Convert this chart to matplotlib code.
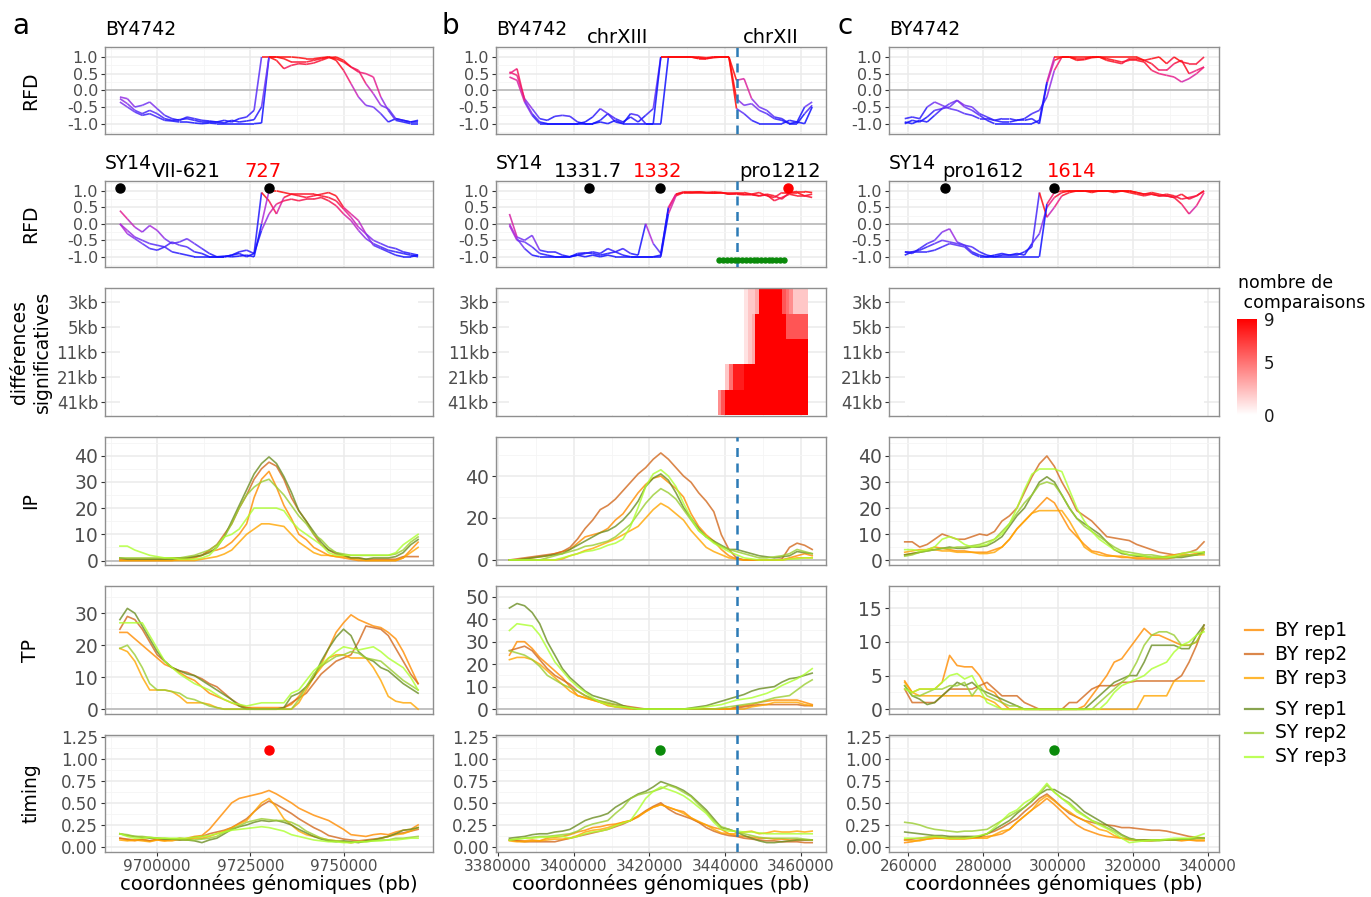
import numpy as np
import matplotlib
matplotlib.use('Agg')
import matplotlib.pyplot as plt
from matplotlib.collections import LineCollection
from matplotlib.colors import LinearSegmentedColormap, Normalize
from matplotlib.ticker import MultipleLocator, NullLocator, FuncFormatter
from matplotlib.transforms import blended_transform_factory
from matplotlib.lines import Line2D
import matplotlib.colorbar as mcolorbar

plt.rcParams['font.family'] = ['DejaVu Sans']
plt.rcParams['axes.unicode_minus'] = False

# ---------------- data ----------------
# sampling grid (2 kb bins) for each locus
x_a = np.arange(9690000, 9770001, 2000)
x_b = np.arange(3383000, 3463001, 2000)
x_c = np.arange(259000, 339001, 2000)

series_labels = ['BY rep1', 'BY rep2', 'BY rep3', 'SY rep1', 'SY rep2', 'SY rep3']
series_colors = ['#FF8C00', '#D2691E', '#FFA500', '#6B8E23', '#9ACD32', '#ADFF2F']

# RFD, BY4742 (3 replicates) and SY14 (3 replicates)
rfd_by_a = [
    [-0.2, -0.25, -0.5, -0.45, -0.35, -0.55, -0.75, -0.85, -0.9, -0.8,
     -0.85, -0.9, -0.92, -0.95, -0.9, -0.95, -0.85, -0.8, -0.6, 1.0,
     1.0, 1.0, 0.95, 0.85, 0.85, 0.85, 0.9, 0.95, 1.0, 0.9,
     0.6, 0.2, -0.2, -0.45, -0.5, -0.7, -0.95, -0.85, -0.9, -0.95, -0.95],
    [-0.35, -0.5, -0.65, -0.75, -0.7, -0.8, -0.9, -0.92, -0.95, -0.95,
     -0.98, -1.0, -0.98, -1.0, -1.0, -1.0, -1.0, -1.0, -1.0, -0.98,
     1.0, 1.0, 1.0, 1.0, 0.98, 0.95, 0.95, 0.98, 1.0, 0.95,
     0.85, 0.7, 0.55, 0.5, 0.4, -0.2, -0.6, -0.9, -0.95, -1.0, -1.0],
    [-0.25, -0.4, -0.6, -0.7, -0.6, -0.7, -0.85, -0.9, -0.88, -0.85,
     -0.9, -0.95, -0.95, -0.95, -0.98, -0.9, -0.95, -0.92, -0.88, -0.5,
     1.0, 0.9, 0.65, 0.75, 0.8, 0.78, 0.82, 0.9, 0.98, 1.0,
     0.9, 0.7, 0.6, 0.2, -0.1, -0.45, -0.55, -0.85, -0.9, -0.95, -0.9],
]
rfd_sy_a = [
    [0.4, 0.15, -0.1, -0.25, -0.05, -0.2, -0.45, -0.6, -0.55, -0.45,
     -0.6, -0.75, -0.9, -1.0, -1.0, -0.95, -0.85, -0.8, -0.9, 0.95,
     0.7, 0.3, 0.8, 0.9, 0.85, 0.8, 0.85, 0.9, 0.95, 0.85,
     0.5, 0.3, 0.1, -0.3, -0.5, -0.6, -0.7, -0.75, -0.85, -0.9, -0.95],
    [0.0, -0.2, -0.4, -0.5, -0.6, -0.65, -0.7, -0.55, -0.65, -0.7,
     -0.85, -0.9, -1.0, -1.0, -1.0, -0.95, -0.9, -1.0, -0.9, -0.2,
     0.3, 0.6, 0.7, 0.75, 0.7, 0.75, 0.75, 0.8, 0.7, 0.55,
     0.3, 0.1, -0.2, -0.45, -0.6, -0.7, -0.8, -0.85, -0.9, -0.95, -1.0],
    [0.0, -0.3, -0.45, -0.6, -0.75, -0.8, -0.7, -0.85, -0.9, -0.95,
     -1.0, -1.0, -1.0, -1.0, -0.98, -1.0, -0.98, -0.95, -1.0, 0.0,
     1.0, 1.0, 0.95, 0.9, 0.9, 0.9, 0.9, 0.85, 0.8, 0.7,
     0.45, 0.2, -0.1, -0.3, -0.65, -0.75, -0.85, -0.95, -1.0, -1.0, -0.95],
]
rfd_by_b = [
    [0.55, 0.45, -0.25, -0.55, -0.85, -0.9, -0.78, -0.75, -0.78, -0.95,
     -1.0, -1.0, -0.9, -0.7, -0.85, -0.95, -0.8, -0.95, -0.75, -0.55,
     1.0, 1.0, 1.0, 1.0, 1.0, 0.97, 0.95, 0.98, 1.0, 1.0,
     -0.25, -0.45, -0.4, -0.6, -0.7, -0.85, -0.9, -1.0, -0.95, -0.5, -0.35],
    [0.5, 0.65, -0.3, -0.7, -0.95, -1.0, -1.0, -1.0, -1.0, -1.0,
     -0.95, -0.8, -0.55, -0.7, -0.95, -1.0, -0.7, -0.75, -1.0, -1.0,
     -1.0, 1.0, 1.0, 1.0, 1.0, 1.0, 0.98, 1.0, 1.0, 1.0,
     0.3, 0.35, -0.25, -0.5, -0.6, -0.8, -0.85, -1.0, -1.0, -0.7, -0.45],
    [0.4, 0.3, -0.35, -0.75, -1.0, -1.0, -1.0, -1.0, -1.0, -1.0,
     -1.0, -1.0, -0.95, -1.0, -0.9, -1.0, -1.0, -1.0, -1.0, -1.0,
     1.0, 1.0, 1.0, 1.0, 1.0, 0.95, 0.95, 1.0, 1.0, 1.0,
     -0.55, -0.7, -0.9, -1.0, -1.0, -1.0, -1.0, -0.9, -0.95, -1.0, -0.5],
]
rfd_sy_b = [
    [0.3, -0.4, -0.5, -0.35, -0.8, -0.85, -0.85, -0.95, -1.0, -0.95,
     -0.9, -0.85, -0.9, -0.75, -0.85, -0.75, -0.9, -0.95, 0.0, -0.6,
     -0.9, 0.45, 0.9, 0.97, 0.95, 0.97, 0.95, 0.93, 0.95, 0.9,
     0.92, 0.9, 0.88, 0.85, 0.9, 0.85, 0.75, 0.95, 0.95, 0.85, 0.9],
    [-0.05, -0.5, -0.55, -0.7, -0.9, -0.95, -1.0, -1.0, -1.0, -0.9,
     -0.88, -0.9, -0.95, -0.9, -0.85, -0.95, -1.0, -1.0, -1.0, -1.0,
     -1.0, 0.3, 0.85, 0.95, 0.95, 0.95, 0.95, 0.95, 0.95, 0.95,
     0.95, 0.95, 0.9, 0.95, 0.85, 0.8, 0.95, 0.95, 0.98, 0.98, 0.95],
    [0.0, -0.45, -0.75, -0.95, -1.0, -1.0, -1.0, -1.0, -1.0, -0.95,
     -1.0, -0.95, -1.0, -0.95, -1.0, -1.0, -1.0, -1.0, -1.0, -1.0,
     -0.95, 0.5, 0.9, 0.95, 0.97, 0.97, 0.95, 0.97, 0.95, 0.9,
     0.9, 0.88, 0.9, 0.85, 0.88, 0.7, 0.8, 0.9, 0.85, 0.85, 0.8],
]
rfd_by_c = [
    [-0.85, -0.8, -0.85, -0.5, -0.35, -0.45, -0.55, -0.6, -0.7, -0.75,
     -0.85, -0.85, -0.9, -0.85, -0.85, -0.9, -0.85, -0.7, -0.6, -0.2,
     0.6, 1.0, 1.0, 0.95, 0.95, 1.0, 1.0, 0.95, 0.9, 0.85,
     0.9, 0.9, 0.85, 0.6, 0.5, 0.45, 0.4, 0.25, 0.35, 0.5, 0.7],
    [-1.0, -0.9, -0.95, -0.8, -0.6, -0.55, -0.4, -0.3, -0.45, -0.5,
     -0.7, -0.8, -0.9, -0.95, -0.95, -0.9, -0.9, -0.85, -1.0, 0.2,
     0.9, 1.0, 1.0, 0.9, 0.92, 0.98, 1.0, 0.9, 0.85, 0.8,
     0.95, 0.95, 0.9, 0.8, 0.6, 0.6, 0.8, 0.9, 0.5, 0.6, 0.7],
    [-0.95, -1.0, -0.9, -0.95, -0.75, -0.55, -0.5, -0.3, -0.5, -0.6,
     -0.75, -0.9, -1.0, -1.0, -1.0, -1.0, -1.0, -1.0, -0.9, 0.25,
     1.0, 1.0, 1.0, 1.0, 1.0, 1.0, 1.0, 1.0, 1.0, 1.0,
     1.0, 1.0, 0.9, 0.95, 1.0, 0.8, 1.0, 0.85, 0.8, 0.8, 1.0],
]
rfd_sy_c = [
    [-0.85, -0.9, -0.75, -0.6, -0.5, -0.25, -0.15, -0.55, -0.65, -0.7,
     -0.85, -0.95, -1.0, -0.95, -0.95, -0.95, -0.85, -0.7, 0.95, 0.2,
     0.5, 0.85, 0.95, 1.0, 1.0, 0.95, 1.0, 1.0, 0.95, 1.0,
     0.95, 0.9, 0.85, 0.9, 0.85, 0.85, 0.8, 0.6, 0.3, 0.55, 0.95],
    [-0.95, -0.85, -0.8, -0.7, -0.6, -0.5, -0.55, -0.6, -0.65, -0.85,
     -0.95, -1.0, -0.95, -0.9, -0.95, -0.9, -0.95, -0.6, -0.3, 0.5,
     0.8, 0.95, 1.0, 1.0, 1.0, 1.0, 1.0, 1.0, 1.0, 1.0,
     1.0, 0.95, 0.9, 0.9, 0.85, 0.9, 0.85, 0.75, 0.8, 0.85, 1.0],
    [-0.85, -0.85, -0.85, -0.85, -0.8, -0.7, -0.6, -0.65, -0.7, -0.9,
     -1.0, -1.0, -1.0, -1.0, -1.0, -1.0, -1.0, -1.0, -1.0, 0.6,
     0.95, 1.0, 1.0, 1.0, 1.0, 1.0, 1.0, 1.0, 1.0, 1.0,
     1.0, 0.95, 0.9, 0.95, 0.9, 0.85, 0.8, 0.9, 0.75, 0.85, 1.0],
]

# IP signal (order: BY rep1-3, SY rep1-3)
ip_a = [
    [0, 0, 0, 0, 0, 0, 0, 0, 0.5, 0.5, 1, 2, 3.5, 4, 5, 7, 10, 14, 24, 31,
     34, 28, 21, 16, 10, 8, 5, 3.5, 2, 1.5, 1, 0.5, 0, 0, 0, 0, 0, 0, 1, 4, 7],
    [0.5, 0.5, 0.5, 0.5, 0.5, 0.5, 0.5, 1, 1, 1, 1.5, 2, 4, 6, 10, 14, 20, 25, 31, 35,
     37.5, 36, 31, 24, 19, 15, 10, 6, 4, 2.5, 2, 1, 1, 0.5, 0.5, 0.5, 0.5, 0.5, 1.5, 1.5, 1.5],
    [0, 0, 0, 0, 0, 0, 0, 0, 0, 0, 0, 0.5, 1, 1.5, 2.5, 4, 7, 10, 12, 14,
     14, 13.5, 13, 10, 7, 5, 3, 2, 2, 1.5, 1.5, 1, 0.5, 0, 0, 0, 0, 0, 1, 3, 5],
    [1, 0.5, 0.5, 0.5, 0.5, 0.5, 0.5, 0.5, 1, 1, 1.5, 2, 3, 5, 9, 15, 21, 27, 33, 37,
     39.5, 37, 32, 26, 19, 15, 11, 7, 4, 3, 2, 1, 1, 0.5, 1, 1, 1, 1.5, 3, 6, 8],
    [1, 1, 1, 1, 1, 1, 1, 1, 1, 1.5, 2, 3, 4, 6, 9, 14, 20, 25, 28, 30,
     31, 28, 25, 21, 17, 14, 10, 8, 5, 3, 2.5, 2, 2, 2, 2, 2, 2, 2.5, 4, 7, 9],
    [5.5, 5.5, 4, 3, 2, 1.5, 1, 1, 0.5, 0.5, 0.5, 1, 2, 5, 9, 10, 12, 16, 20, 20,
     20, 20, 19, 15, 12, 10, 8, 6, 3, 2, 2, 2, 2, 2, 2, 2, 2, 3, 6, 8, 10],
]
ip_b = [
    [0, 0, 0.5, 1, 1.5, 2, 3, 4, 5, 8, 11, 12, 13, 15, 19, 22, 27, 32, 36, 39,
     40, 37, 34, 30, 22, 16, 12, 9, 5, 2, 0.5, 0, 0, 0, 0, 0, 0, 1, 2, 3, 2],
    [0, 0.5, 1, 1.5, 2, 2.5, 3, 4, 6, 10, 15, 19, 24, 26, 29, 33, 37, 41, 44, 48,
     51, 48, 44, 40, 37, 32, 28, 23, 12, 5, 1, 0, 0, 0, 0, 0, 0.5, 6, 8, 7, 5],
    [0, 0, 0, 0, 0, 0, 0, 0.5, 2, 3, 4.5, 5.5, 7, 8.5, 10, 12, 14, 16, 20, 24,
     27, 25, 22, 19, 14, 10, 6, 4, 2.5, 1, 0.5, 0, 0, 0, 0, 0, 0, 0.5, 1, 1, 1],
    [0, 0, 0.5, 1, 1.5, 2, 2.5, 3, 5, 7, 9, 11, 13, 14, 16, 19, 23, 28, 35, 39,
     41, 38, 32, 25, 20, 15, 11, 9, 7, 5, 5, 4, 3, 2, 1.5, 1, 1.5, 2, 4, 3.5, 3],
    [0, 0, 0, 0, 0, 1, 2, 3, 4, 5, 6.5, 7, 8, 9, 11, 14, 17, 22, 27, 31,
     34, 32, 29, 24, 19, 14, 11, 8.5, 6.5, 5, 4, 3, 2, 1, 1, 1.5, 2, 3, 5, 4, 3],
    [0, 0, 0, 0, 0, 0, 0, 1, 2, 3, 4, 4.5, 5.5, 7, 8, 10, 16, 25, 35, 41,
     43, 40, 35, 27, 20, 14, 11, 8, 6, 4, 2.5, 1, 0.5, 0, 0, 0, 0, 0.5, 0.5, 1, 1],
]
ip_c = [
    [2, 2.5, 3, 4, 5, 4.5, 4, 3.5, 3.5, 3, 3, 3, 4, 5, 8, 12, 15, 18, 21, 24,
     22, 17, 12, 9, 6, 3.5, 3, 2, 1.5, 1, 1, 0.5, 0.5, 0.5, 0.5, 0.5, 1, 1.5, 2, 2.5, 3],
    [7, 7, 5, 6, 8, 10, 9, 8, 8, 9, 10, 9.5, 11, 15, 17, 20, 26, 32, 37, 40,
     36, 30, 25, 19, 17, 15, 12, 9, 8.5, 8, 7.5, 6, 5, 4, 3, 2.5, 2, 2.5, 3, 4, 7],
    [3, 3.5, 4, 4, 4, 3.5, 3.5, 3, 3, 3, 2.5, 2.5, 3, 5, 8, 12, 15, 18, 19, 19,
     19, 19, 15, 10, 5, 3, 2, 1.5, 1.5, 1.5, 1, 1, 1, 1, 1, 1.5, 2, 2, 2, 2, 2],
    [2, 2.5, 3, 3.5, 4, 4.5, 5, 4.5, 4.5, 5, 5, 5.5, 7, 9, 13, 17, 20, 25, 30, 32,
     30, 25, 20, 16, 14, 12, 10, 7, 4, 2.5, 2, 1.5, 1.5, 1, 1, 1, 1, 1, 1.5, 2, 3],
    [1.5, 2, 3, 3.5, 4, 4.5, 4.5, 5, 5, 5.5, 6, 7, 8, 11, 14, 18, 22, 25, 29, 30,
     29, 25, 20, 16, 13, 11, 9, 7, 5, 3.5, 3, 2.5, 2, 2, 1.5, 1, 1, 1.5, 2, 2, 2.5],
    [4, 4, 3.5, 4, 5, 8, 9, 8, 6, 5, 5.5, 6, 8, 10, 14, 20, 27, 33, 35, 35,
     35, 34, 27, 20, 15, 11, 8, 6, 4, 3, 2, 2, 1.5, 1, 1, 1, 1.5, 2.5, 3, 3, 3],
]

# TP signal
tp_a = [
    [24, 24, 22, 20, 18, 16, 14, 13, 11.5, 10, 9, 7, 5, 4, 3, 2, 1, 0.5, 0.5, 0.5,
     0.5, 0.5, 0.5, 1.5, 4, 7, 10, 14, 19, 24, 27, 29.5, 28, 27, 26, 25.5, 24, 22, 18, 13, 8],
    [25, 29, 28, 25, 21, 17, 15, 13, 12, 11.5, 10.5, 9.5, 8, 7, 5, 3, 1.5, 0.5, 0, 0,
     0, 0, 0.5, 2, 3.5, 5, 8, 11, 13, 15, 16, 17, 21, 26, 25.5, 25, 23, 19, 15, 11, 8],
    [19, 18, 15, 10, 6, 6, 6, 5.5, 4, 2, 2, 2, 1.5, 0.5, 0, 0, 0, 0, 0, 0,
     0, 0, 0, 0, 2, 6, 10, 13, 16, 17, 17, 16, 16, 16, 13, 9, 4, 2.5, 2, 2, 0],
    [28, 31.5, 30, 26, 22, 18, 15, 13, 12, 11, 10.5, 9, 7.5, 6, 4.5, 3, 1, 0, 0, 0,
     0, 0, 0.5, 4, 5, 7, 10, 15, 19, 22.5, 25, 23, 18, 16, 15, 13, 12, 10, 8, 6.5, 5],
    [19, 20, 17, 13, 8, 6, 6, 5.5, 5, 3.5, 3, 2, 1, 0.5, 0, 0, 0, 0, 0, 0,
     0, 0, 0, 0, 3, 7, 11, 13.5, 15, 16.5, 17, 18, 17.5, 16, 15.5, 15, 13, 11, 9, 7.5, 6],
    [27, 27, 27, 27, 23, 19, 15, 13, 11, 9.5, 8, 7, 6, 4.5, 3, 2, 1.5, 1, 1.5, 2,
     2, 2, 2, 5, 6, 9, 12, 14, 16, 18, 19.5, 19, 18.5, 19, 19.5, 18, 16, 14.5, 13, 10, 6],
]
tp_b = [
    [24, 30, 30, 27, 23, 20, 17, 14, 10, 6, 5, 4, 3, 1.5, 1, 1, 0.5, 0, 0, 0,
     0, 0, 0, 0, 0, 0, 0, 0, 0, 0, 1, 1.5, 2, 3, 3.5, 4, 4, 4, 4, 3, 2],
    [26, 27, 28, 26, 22, 18, 15, 13, 11, 8, 6, 4.5, 3.5, 2.5, 2, 1.5, 1, 0.5, 0, 0,
     0, 0, 0, 0, 0, 0, 0, 0, 0, 0, 0.5, 1, 1.5, 2, 2, 2, 2, 2, 2, 1.5, 1.5],
    [22, 23, 23, 22, 20, 17, 14, 11, 8, 6, 5, 4, 3, 2, 1, 0.5, 0, 0, 0, 0,
     0, 0, 0, 0, 0, 0, 0, 0, 0, 0, 0, 0, 1, 1.5, 2, 3, 3, 3, 3, 2, 1.5],
    [45, 47, 46, 43, 38, 30, 24, 18, 14, 11, 8, 6, 5, 4, 3, 1.5, 0.5, 0, 0, 0,
     0, 0, 0, 0, 0.5, 1, 1.5, 2.5, 3.5, 4.5, 5.5, 6.5, 8, 9, 9.5, 10, 12, 13.5, 14, 15, 16],
    [26, 25, 24, 22, 19, 15, 13, 11, 9.5, 8, 6, 4.5, 3.5, 3, 2, 1, 0.5, 0, 0, 0,
     0, 0, 0, 0, 0, 0, 0, 0, 0.5, 1, 1.5, 2, 2.5, 3, 4, 5, 5.5, 6, 8.5, 11, 13],
    [35, 38, 37.5, 37, 33, 27, 21, 17, 13, 10, 7.5, 5, 3, 2, 1, 1, 0.5, 0, 0, 0,
     0, 0, 0, 0, 0.3, 0.5, 1, 1.5, 2, 3, 4, 4.5, 5, 6, 7, 8.5, 10.5, 12, 13.5, 15.5, 18],
]
tp_c = [
    [4.2, 2.5, 3, 3, 3, 4, 8, 6.5, 6.3, 6.3, 5, 3, 2.5, 1, 0, 0, 0, 0, 0, 0,
     0, 0, 0, 0, 0.5, 2, 3.5, 5, 7, 7.5, 9, 10.5, 12, 11, 11, 10.5, 10, 9.5, 9.5, 10, 12],
    [3, 1, 1, 1, 1, 2, 3, 3, 3, 3, 3.5, 4, 3, 2, 2, 2, 1, 0.5, 0, 0,
     0, 0, 1, 1, 2, 3, 3.5, 3.5, 3.5, 4, 4, 4.2, 4.2, 4.2, 4.2, 4.2, 4.2, 5, 7, 9.5, 12.5],
    [4, 2.5, 2, 2, 2, 2, 2, 2, 2, 2, 2, 1.5, 1, 0, 0, 0, 0, 0, 0, 0,
     0, 0, 0, 0, 0, 0, 0, 0, 0, 0, 0, 0, 2, 2, 2, 2, 4.2, 4.2, 4.2, 4.2, 4.2],
    [3.5, 2, 1.5, 0.7, 1, 2, 3, 4, 3.5, 4, 3, 2.5, 2, 1.5, 1, 0.5, 0, 0, 0, 0,
     0, 0, 0, 0, 0, 1, 2, 3, 4, 4.5, 5, 5, 7, 9.5, 9.5, 9.5, 9.5, 9, 9, 11, 12.5],
    [3.5, 2, 2, 2.5, 3, 3, 3.5, 3.5, 4, 2, 3.5, 2, 1.5, 1, 0.5, 0.5, 0, 0, 0, 0,
     0, 0, 0, 0, 0, 0, 1, 2, 3, 4, 5, 7, 9.5, 11, 11.5, 11.5, 11, 9.5, 9.5, 10, 12],
    [3, 2.5, 3, 3, 3, 4, 5, 5.3, 4.5, 5, 3, 1, 0.5, 0, 0, 0, 0, 0, 0, 0,
     0, 0, 0, 0, 0, 0, 0, 1, 2.5, 3.5, 4, 4.5, 5, 6, 6.5, 7, 8.5, 9.5, 10, 11, 11.5],
]

# replication timing
tim_a = [
    [0.10, 0.08, 0.07, 0.09, 0.07, 0.08, 0.07, 0.09, 0.08, 0.10, 0.12, 0.13, 0.20, 0.30, 0.40, 0.50, 0.55, 0.57, 0.59, 0.61,
     0.64, 0.60, 0.55, 0.50, 0.44, 0.40, 0.36, 0.33, 0.30, 0.25, 0.20, 0.14, 0.13, 0.12, 0.14, 0.15, 0.14, 0.17, 0.19, 0.20, 0.25],
    [0.10, 0.09, 0.08, 0.08, 0.07, 0.09, 0.08, 0.08, 0.10, 0.09, 0.11, 0.12, 0.15, 0.17, 0.19, 0.22, 0.27, 0.32, 0.40, 0.47,
     0.52, 0.48, 0.43, 0.38, 0.32, 0.27, 0.22, 0.18, 0.13, 0.11, 0.09, 0.08, 0.07, 0.08, 0.09, 0.10, 0.12, 0.15, 0.16, 0.18, 0.20],
    [0.08, 0.07, 0.08, 0.07, 0.06, 0.08, 0.07, 0.07, 0.09, 0.08, 0.10, 0.10, 0.12, 0.15, 0.18, 0.22, 0.26, 0.30, 0.40, 0.50,
     0.55, 0.45, 0.32, 0.25, 0.18, 0.14, 0.12, 0.10, 0.08, 0.07, 0.06, 0.05, 0.06, 0.07, 0.08, 0.10, 0.12, 0.14, 0.15, 0.18, 0.22],
    [0.15, 0.13, 0.12, 0.11, 0.10, 0.10, 0.09, 0.09, 0.08, 0.08, 0.07, 0.05, 0.08, 0.10, 0.15, 0.20, 0.23, 0.25, 0.28, 0.30,
     0.29, 0.30, 0.28, 0.25, 0.20, 0.16, 0.12, 0.09, 0.07, 0.06, 0.07, 0.06, 0.05, 0.07, 0.08, 0.10, 0.12, 0.15, 0.19, 0.20, 0.22],
    [0.15, 0.14, 0.12, 0.12, 0.11, 0.10, 0.10, 0.09, 0.09, 0.08, 0.08, 0.09, 0.10, 0.12, 0.17, 0.20, 0.24, 0.28, 0.30, 0.32,
     0.31, 0.30, 0.30, 0.28, 0.24, 0.18, 0.14, 0.10, 0.08, 0.07, 0.06, 0.05, 0.06, 0.06, 0.07, 0.08, 0.08, 0.10, 0.10, 0.11, 0.12],
    [0.15, 0.12, 0.10, 0.10, 0.11, 0.10, 0.10, 0.10, 0.10, 0.10, 0.11, 0.12, 0.13, 0.15, 0.17, 0.19, 0.20, 0.21, 0.22, 0.23,
     0.22, 0.20, 0.18, 0.14, 0.12, 0.10, 0.08, 0.07, 0.06, 0.06, 0.05, 0.05, 0.06, 0.06, 0.07, 0.07, 0.08, 0.08, 0.09, 0.10, 0.10],
]
tim_b = [
    [0.08, 0.07, 0.07, 0.08, 0.07, 0.10, 0.11, 0.12, 0.14, 0.17, 0.19, 0.22, 0.23, 0.25, 0.26, 0.28, 0.30, 0.34, 0.40, 0.45,
     0.48, 0.45, 0.42, 0.40, 0.33, 0.28, 0.25, 0.22, 0.20, 0.15, 0.13, 0.12, 0.11, 0.10, 0.10, 0.09, 0.09, 0.08, 0.08, 0.08, 0.08],
    [0.08, 0.07, 0.06, 0.06, 0.06, 0.06, 0.06, 0.08, 0.10, 0.12, 0.14, 0.16, 0.18, 0.20, 0.23, 0.26, 0.30, 0.35, 0.41, 0.46,
     0.50, 0.43, 0.38, 0.35, 0.32, 0.28, 0.22, 0.18, 0.15, 0.13, 0.12, 0.10, 0.09, 0.08, 0.07, 0.07, 0.06, 0.06, 0.06, 0.05, 0.05],
    [0.07, 0.06, 0.06, 0.07, 0.07, 0.08, 0.09, 0.09, 0.10, 0.13, 0.17, 0.19, 0.20, 0.22, 0.25, 0.28, 0.30, 0.35, 0.40, 0.45,
     0.48, 0.45, 0.42, 0.38, 0.33, 0.29, 0.25, 0.20, 0.16, 0.15, 0.15, 0.17, 0.18, 0.15, 0.16, 0.18, 0.17, 0.17, 0.18, 0.17, 0.18],
    [0.10, 0.11, 0.12, 0.14, 0.15, 0.15, 0.17, 0.18, 0.20, 0.25, 0.30, 0.33, 0.35, 0.38, 0.45, 0.50, 0.55, 0.60, 0.63, 0.68,
     0.74, 0.71, 0.68, 0.64, 0.58, 0.50, 0.42, 0.32, 0.22, 0.20, 0.17, 0.13, 0.10, 0.07, 0.05, 0.05, 0.06, 0.07, 0.08, 0.08, 0.08],
    [0.08, 0.09, 0.10, 0.11, 0.12, 0.12, 0.13, 0.14, 0.15, 0.18, 0.23, 0.26, 0.28, 0.30, 0.38, 0.45, 0.55, 0.59, 0.61, 0.63,
     0.66, 0.70, 0.67, 0.62, 0.57, 0.48, 0.40, 0.30, 0.23, 0.20, 0.17, 0.15, 0.13, 0.11, 0.10, 0.10, 0.10, 0.10, 0.10, 0.09, 0.08],
    [0.08, 0.09, 0.10, 0.10, 0.11, 0.11, 0.12, 0.12, 0.10, 0.12, 0.15, 0.17, 0.18, 0.20, 0.24, 0.27, 0.30, 0.42, 0.55, 0.63,
     0.68, 0.65, 0.62, 0.58, 0.52, 0.45, 0.38, 0.28, 0.20, 0.18, 0.18, 0.17, 0.17, 0.16, 0.15, 0.15, 0.15, 0.15, 0.15, 0.15, 0.15],
]
tim_c = [
    [0.05, 0.06, 0.08, 0.09, 0.10, 0.10, 0.11, 0.10, 0.10, 0.10, 0.11, 0.12, 0.13, 0.15, 0.20, 0.28, 0.35, 0.42, 0.48, 0.55,
     0.48, 0.40, 0.32, 0.25, 0.20, 0.17, 0.14, 0.12, 0.11, 0.10, 0.09, 0.08, 0.07, 0.07, 0.08, 0.08, 0.08, 0.07, 0.08, 0.07, 0.07],
    [0.08, 0.09, 0.10, 0.11, 0.12, 0.11, 0.10, 0.10, 0.11, 0.11, 0.12, 0.15, 0.18, 0.22, 0.27, 0.32, 0.40, 0.47, 0.55, 0.60,
     0.53, 0.45, 0.38, 0.34, 0.30, 0.28, 0.26, 0.25, 0.24, 0.22, 0.22, 0.21, 0.20, 0.19, 0.19, 0.18, 0.16, 0.14, 0.12, 0.11, 0.10],
    [0.08, 0.07, 0.07, 0.09, 0.10, 0.10, 0.09, 0.09, 0.09, 0.10, 0.10, 0.10, 0.14, 0.18, 0.20, 0.28, 0.35, 0.42, 0.52, 0.58,
     0.52, 0.45, 0.40, 0.34, 0.30, 0.25, 0.20, 0.18, 0.13, 0.10, 0.08, 0.08, 0.08, 0.08, 0.08, 0.08, 0.08, 0.08, 0.08, 0.08, 0.08],
    [0.17, 0.16, 0.15, 0.14, 0.13, 0.13, 0.12, 0.12, 0.12, 0.12, 0.12, 0.15, 0.20, 0.25, 0.30, 0.38, 0.45, 0.52, 0.60, 0.65,
     0.65, 0.60, 0.55, 0.48, 0.40, 0.35, 0.30, 0.25, 0.20, 0.14, 0.10, 0.08, 0.08, 0.08, 0.08, 0.08, 0.08, 0.09, 0.09, 0.10, 0.10],
    [0.28, 0.27, 0.25, 0.22, 0.20, 0.19, 0.18, 0.17, 0.18, 0.18, 0.19, 0.20, 0.25, 0.30, 0.35, 0.40, 0.45, 0.52, 0.60, 0.70,
     0.62, 0.55, 0.50, 0.42, 0.36, 0.30, 0.27, 0.22, 0.18, 0.13, 0.09, 0.08, 0.07, 0.07, 0.07, 0.08, 0.08, 0.09, 0.09, 0.10, 0.10],
    [0.10, 0.10, 0.10, 0.11, 0.12, 0.11, 0.10, 0.10, 0.10, 0.11, 0.13, 0.15, 0.22, 0.30, 0.38, 0.42, 0.50, 0.55, 0.62, 0.72,
     0.62, 0.55, 0.48, 0.40, 0.35, 0.30, 0.25, 0.21, 0.16, 0.10, 0.05, 0.06, 0.07, 0.08, 0.08, 0.09, 0.10, 0.10, 0.10, 0.12, 0.15],
]

# significant differences heatmap (number of comparisons), scales top to bottom
heat_scales = ['3kb', '5kb', '11kb', '21kb', '41kb']
heat_b_edges = [3383000, 3438000, 3439000, 3440000, 3441000, 3442000, 3443000, 3444000,
                3445000, 3446000, 3447000, 3448000, 3449000, 3450000, 3451000, 3452000,
                3453000, 3454000, 3455000, 3456000, 3457000, 3458000, 3459000, 3460000,
                3461000, 3462000]
heat_b = [
    [0, 0, 0, 0, 0, 0, 0, 0, 1, 2, 2, 3, 9, 9, 9, 9, 9, 9, 6, 5, 4, 2, 2, 2, 2],
    [0, 0, 0, 0, 0, 0, 0, 0, 1, 2, 3, 9, 9, 9, 9, 9, 9, 9, 9, 6, 6, 6, 6, 6, 6],
    [0, 0, 0, 0, 0, 0, 0, 0, 1, 2, 3, 9, 9, 9, 9, 9, 9, 9, 9, 9, 9, 9, 9, 9, 9],
    [0, 0, 0, 2, 5, 8, 8, 8, 9, 9, 9, 9, 9, 9, 9, 9, 9, 9, 9, 9, 9, 9, 9, 9, 9],
    [0, 4, 6, 9, 9, 9, 9, 9, 9, 9, 9, 9, 9, 9, 9, 9, 9, 9, 9, 9, 9, 9, 9, 9, 9],
]

# origins / annotations
ori_a = [9690000, 9729900]
ori_b = [3404000, 3422800]
ori_c = [269900, 298900]
ori_red_b = [3456500]
sig_dots_b = [3438500, 3439500, 3440500, 3441500, 3442500, 3443500, 3444500, 3445500, 3446500,
              3447500, 3448500, 3449500, 3450500, 3451500, 3452500, 3453500, 3454500, 3455500]
labels_a = [('VII-621', 9707750, 'black'), ('727', 9728500, 'red')]
labels_b = [('1331.7', 3403650, 'black'), ('1332', 3422150, 'red'), ('pro1212', 3454400, 'black')]
labels_c = [('pro1612', 279900, 'black'), ('1614', 303500, 'red')]
chr_labels_b = [('chrXIII', 3411700), ('chrXII', 3452100)]
chr_break_b = 3443200
timing_dot = [(9729900, 'red'), (3422800, '#0A8A0A'), (298900, '#0A8A0A')]

# ---------------- layout ----------------
W, H = 1371, 897
fig = plt.figure(figsize=(W / 100, H / 100), dpi=100)

col_px = [(105, 433), (496, 826), (889, 1219)]
row_px = [(47, 134), (181, 267), (288, 416), (437, 565), (586, 714), (735, 852)]
xlims = [(9686000, 9774000), (3379450, 3466650), (254800, 343000)]
xsteps = [(25000, 12500), (20000, 10000), (20000, 10000)]

rfd_cmap = LinearSegmentedColormap.from_list(
    'rfd', ['#1010FF', '#6A35F5', '#B02AD8', '#EE1E82', '#FF0A0A'])
heat_cmap = LinearSegmentedColormap.from_list('heat', ['#FFFFFF', '#FF0000'])
heat_norm = Normalize(0, 9)


def add_ax(c, r):
    l, rr = col_px[c]
    t, b = row_px[r]
    return fig.add_axes([l / W, 1 - b / H, (rr - l) / W, (b - t) / H])


def base_style(ax, c, show_x):
    ax.set_xlim(*xlims[c])
    ax.xaxis.set_major_locator(MultipleLocator(xsteps[c][0]))
    ax.xaxis.set_minor_locator(MultipleLocator(xsteps[c][1]))
    ax.set_axisbelow(True)
    ax.grid(which='major', color='#EBEBEB', lw=1.1)
    ax.grid(which='minor', color='#F5F5F5', lw=0.6)
    for s in ax.spines.values():
        s.set_color('#8F8F8F')
        s.set_linewidth(1.0)
    ax.tick_params(which='minor', length=0)
    ax.tick_params(which='major', length=2.75, width=0.8, color='#333333',
                   labelcolor='#4D4D4D', pad=2.2)
    if show_x:
        ax.xaxis.set_major_formatter(FuncFormatter(lambda v, p: f'{int(round(v))}'))
        ax.tick_params(axis='x', labelsize=11)
    else:
        ax.tick_params(axis='x', which='major', length=0, labelbottom=False)


def set_y(ax, lim, major, minor, fmt, size):
    ax.set_ylim(*lim)
    ax.yaxis.set_major_locator(MultipleLocator(major))
    ax.yaxis.set_minor_locator(MultipleLocator(minor))
    ax.yaxis.set_major_formatter(FuncFormatter(lambda v, p: fmt.format(v + 0.0)))
    ax.tick_params(axis='y', labelsize=size)


def rfd_line(ax, x, y):
    x = np.asarray(x, float)
    y = np.asarray(y, float)
    pts = np.column_stack([x, y]).reshape(-1, 1, 2)
    segs = np.concatenate([pts[:-1], pts[1:]], axis=1)
    lc = LineCollection(segs, cmap=rfd_cmap, norm=Normalize(-1, 1),
                        linewidths=1.2, alpha=0.85, zorder=3)
    lc.set_array(y[:-1])
    ax.add_collection(lc)


xs = [x_a, x_b, x_c]
rfd_by = [rfd_by_a, rfd_by_b, rfd_by_c]
rfd_sy = [rfd_sy_a, rfd_sy_b, rfd_sy_c]
ips = [ip_a, ip_b, ip_c]
tps = [tp_a, tp_b, tp_c]
tims = [tim_a, tim_b, tim_c]
oris = [ori_a, ori_b, ori_c]
labels = [labels_a, labels_b, labels_c]
ip_lims = [(-1.7, 47.1), (-2.4, 58.6), (-1.9, 47.3)]
ip_steps = [(10, 5), (20, 10), (10, 5)]
tp_lims = [(-1.5, 38.5), (-2.2, 54.8), (-0.7, 18.3)]
tp_steps = [(10, 5), (10, 5), (5, 2.5)]

for c in range(3):
    x = xs[c]
    axes = [add_ax(c, r) for r in range(6)]
    for r, ax in enumerate(axes):
        base_style(ax, c, show_x=(r == 5))

    # RFD rows
    for r, data in ((0, rfd_by[c]), (1, rfd_sy[c])):
        ax = axes[r]
        ax.axhline(0, color='#BEBEBE', lw=1.3, zorder=1.5)
        for y in data:
            rfd_line(ax, x, y)
        set_y(ax, (-1.31, 1.3), 0.5, 0.25, '{:.1f}', 11.5)

    # origins on SY14 RFD
    ax = axes[1]
    ax.plot(oris[c], [1.1] * len(oris[c]), 'o', color='black', ms=6.5, zorder=5)
    trans = blended_transform_factory(ax.transData, ax.transAxes)
    for txt, xp, colr in labels[c]:
        ax.text(xp, 1.047, txt, transform=trans, ha='center', va='baseline',
                fontsize=14, color=colr, clip_on=False)
    if c == 1:
        ax.plot(ori_red_b, [1.1], 'o', color='red', ms=6.5, zorder=5)
        ax.plot(sig_dots_b, [-1.1] * len(sig_dots_b), 'o', color='#0A8A0A', ms=3.6, zorder=5)
        t0 = blended_transform_factory(axes[0].transData, axes[0].transAxes)
        for txt, xp in chr_labels_b:
            axes[0].text(xp, 1.046, txt, transform=t0, ha='center', va='baseline',
                         fontsize=14, color='black', clip_on=False)

    # heatmap row
    ax = axes[2]
    if c == 1:
        ax.pcolormesh(heat_b_edges, np.arange(-0.5, 5.0, 1.0), np.array(heat_b),
                      cmap=heat_cmap, norm=heat_norm, zorder=1)
    else:
        ax.pcolormesh([x[0], x[-1]], np.arange(-0.5, 5.0, 1.0), np.zeros((5, 1)),
                      cmap=heat_cmap, norm=heat_norm, zorder=1)
    ax.set_ylim(4.56, -0.56)
    ax.set_yticks(range(5))
    ax.set_yticklabels(heat_scales)
    ax.yaxis.set_minor_locator(NullLocator())
    ax.tick_params(axis='y', labelsize=12)

    # IP / TP rows
    for r, data, lim, st in ((3, ips[c], ip_lims[c], ip_steps[c]),
                             (4, tps[c], tp_lims[c], tp_steps[c])):
        ax = axes[r]
        ax.axhline(0, color='#BEBEBE', lw=1.3, zorder=1.5)
        for y, colr in zip(data, series_colors):
            ax.plot(x, y, color=colr, lw=1.2, alpha=0.8, zorder=3)
        set_y(ax, lim, st[0], st[1], '{:.0f}', 13.5)

    # timing row
    ax = axes[5]
    for y, colr in zip(tims[c], series_colors):
        ax.plot(x, y, color=colr, lw=1.2, alpha=0.8, zorder=3)
    ax.plot([timing_dot[c][0]], [1.1], 'o', color=timing_dot[c][1], ms=6.5, zorder=5)
    set_y(ax, (-0.056, 1.267), 0.25, 0.125, '{:.2f}', 12)

    if c == 1:
        for r in (0, 1, 3, 4, 5):
            axes[r].axvline(chr_break_b, color='#2C7BB6', lw=1.8,
                            ls=(0, (3.6, 2.6)), zorder=4)

    # titles and x label
    l, rr = col_px[c]
    fig.text(l / W, 1 - 35 / H, 'BY4742', fontsize=13.5, va='baseline')
    fig.text(l / W, 1 - 169 / H, 'SY14', fontsize=13.5, va='baseline')
    fig.text((l + rr) / 2 / W, 1 - 890 / H, 'coordonnées génomiques (pb)',
             fontsize=14, ha='center', va='baseline')

# panel letters
for letter, xp in (('a', 21), ('b', 450), ('c', 845)):
    fig.text(xp / W, 1 - 34 / H, letter, fontsize=20, ha='center', va='baseline')

# y axis titles
for txt, yc in (('RFD', 90.5), ('RFD', 224), ('différences\nsignificatives', 352),
                ('IP', 501), ('TP', 650), ('timing', 793)):
    fig.text(31 / W, 1 - yc / H, txt, rotation=90, fontsize=13.5,
             ha='center', va='center')

# colour bar
cax = fig.add_axes([1237 / W, 1 - 415 / H, 20 / W, 96 / H])
cb = mcolorbar.ColorbarBase(cax, cmap=heat_cmap, norm=heat_norm, ticks=[0, 5, 9])
cb.outline.set_visible(False)
cax.tick_params(length=0, labelsize=12, pad=5, labelcolor='#1A1A1A')
fig.text(1238 / W, 1 - 283 / H, 'nombre de', fontsize=12.5, va='center')
fig.text(1238 / W, 1 - 303 / H, ' comparaisons', fontsize=12.5, va='center')

# legend
legend_y = [630, 654, 678, 709, 733, 757]
for lab, colr, yp in zip(series_labels, series_colors, legend_y):
    fig.add_artist(Line2D([1245 / W, 1263 / W], [1 - yp / H, 1 - yp / H],
                          color=colr, lw=1.6, alpha=0.8, transform=fig.transFigure))
    fig.text(1275 / W, 1 - yp / H, lab, fontsize=13.5, va='center')

fig.savefig('out.png', dpi=100)
